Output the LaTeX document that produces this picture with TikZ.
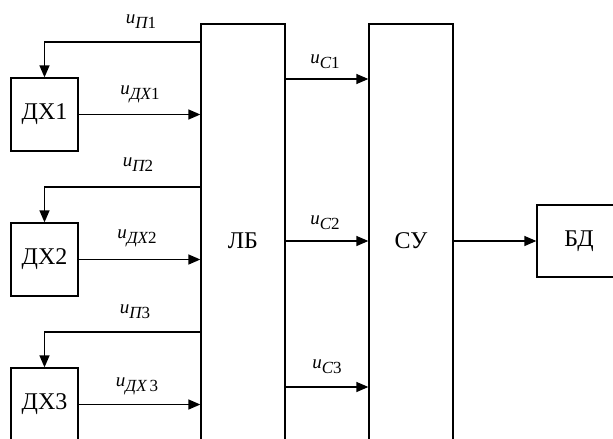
\documentclass[tikz,border=0pt]{standalone}
\usepackage{fontspec}
\setmainfont{Liberation Serif}
\usetikzlibrary{arrows.meta}
\newcommand\ulbl[1]{{\fontsize{19}{19}\selectfont\itshape u}\raisebox{-5pt}{\fontsize{17}{17}\selectfont #1}}
\begin{document}
\begin{tikzpicture}[x=1pt,y=-1pt,
  blk/.style={draw, line width=1.3pt, inner sep=0pt, font=\fontsize{24}{24}\selectfont},
  conn/.style={line width=1.3pt},
  arr/.style={conn, -{Triangle[length=12pt,width=10pt]}},
  lbl/.style={inner sep=0pt, anchor=center}]
\clip (0,0) rectangle (613,439);
\useasboundingbox (0,0) rectangle (613,439);
\fill[white] (0,0) rectangle (613,439);
% blocks
\node[blk, minimum width=67pt, minimum height=73pt] (dx1) at (44.5,114.5) {ДХ1};
\node[blk, minimum width=67pt, minimum height=73pt] (dx2) at (44.5,259.5) {ДХ2};
\node[blk, minimum width=67pt, minimum height=73pt] (dx3) at (44.5,404.5) {ДХ3};
\node[blk, minimum width=84pt, minimum height=434pt] (lb) at (243,241) {ЛБ};
\node[blk, minimum width=84pt, minimum height=434pt] (cy) at (411,241) {СУ};
\node[blk, minimum width=84pt, minimum height=72pt] (bd) at (579,241) {БД};
% feedback lines
\coordinate (p1) at (201,42);
\coordinate (p2) at (201,187);
\coordinate (p3) at (201,332);
\draw[arr] (p1) -| (dx1.north);
\draw[arr] (p2) -| (dx2.north);
\draw[arr] (p3) -| (dx3.north);
% sensor outputs
\draw[arr] (dx1.east) -- (dx1.east -| lb.west);
\draw[arr] (dx2.east) -- (dx2.east -| lb.west);
\draw[arr] (dx3.east) -- (dx3.east -| lb.west);
% LB -> CY
\coordinate (c1) at (285,79);
\coordinate (c2) at (285,241);
\coordinate (c3) at (285,387);
\draw[arr] (c1) -- (c1 -| cy.west);
\draw[arr] (c2) -- (c2 -| cy.west);
\draw[arr] (c3) -- (c3 -| cy.west);
% CY -> BD
\draw[arr] (cy.east) -- (bd.west);
% labels
\node[lbl] (l1) at (141,22) {\ulbl{{\itshape П}1}};
\node[lbl] (l2) at (140,94) {\ulbl{{\itshape ДХ}1}};
\node[lbl] (l3) at (138,165) {\ulbl{{\itshape П}2}};
\node[lbl] (l4) at (137,238) {\ulbl{{\itshape ДХ}2}};
\node[lbl] (l5) at (135,312) {\ulbl{{\itshape П}3}};
\node[lbl] (l6) at (137,386) {\ulbl{{\itshape ДХ}\,3}};
\node[lbl] (l7) at (325,62) {\ulbl{{\itshape C}1}};
\node[lbl] (l8) at (325,223) {\ulbl{{\itshape C}2}};
\node[lbl] (l9) at (327,367) {\ulbl{{\itshape C}3}};
\end{tikzpicture}
\end{document}
